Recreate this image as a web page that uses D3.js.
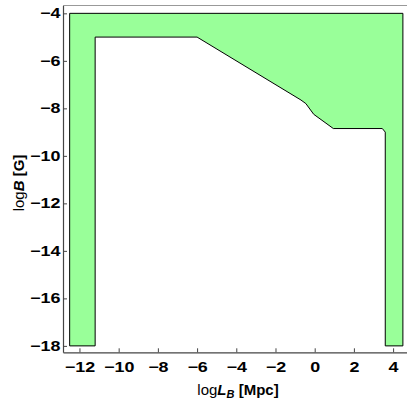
<!DOCTYPE html>
<html>
<head>
<meta charset="utf-8">
<script src="https://cdn.jsdelivr.net/npm/d3@7"></script>
<style>
  html, body { margin: 0; padding: 0; background: #fff; }
  svg { display: block; }
  text { font-family: "Liberation Sans", Arial, sans-serif; }
</style>
</head>
<body>
<svg id="chart" width="407" height="401"></svg>
<script>
// Allowed region in the (log L_B, log B) plane, outer boundary then inner boundary
const outerLogL = [-12.5, -12.5, 4.5, 4.5];
const outerLogB = [-18, -4, -4, -18];
const innerLogL = [3.6, 3.6, 3.45, 0.95, -0.05, -0.45, -0.7, -6, -11.2, -11.2];
const innerLogB = [-18, -9.0, -8.85, -8.85, -8.25, -7.8, -7.65, -5, -5, -18];

const xTicks = [-12, -10, -8, -6, -4, -2, 0, 2, 4];
const yTicks = [-18, -16, -14, -12, -10, -8, -6, -4];

const svg = d3.select("#chart");
const x = d3.scaleLinear().domain([-12.84, 4.76]).range([63, 408]);
const y = d3.scaleLinear().domain([-18.27, -3.67]).range([352.3, 5.5]);

const pts = outerLogL.map((v, i) => [v, outerLogB[i]])
  .concat(innerLogL.map((v, i) => [v, innerLogB[i]]));

svg.append("path")
  .attr("d", d3.line().x(d => x(d[0])).y(d => y(d[1]))(pts) + "Z")
  .attr("fill", "#99ff99")
  .attr("stroke", "#000")
  .attr("stroke-width", 1)
  .attr("stroke-linejoin", "round");

// frame: top line light, left/bottom axes dark
svg.append("line")
  .attr("x1", x.range()[0]).attr("x2", x.range()[1])
  .attr("y1", y.range()[1]).attr("y2", y.range()[1])
  .attr("stroke", "#999").attr("stroke-width", 1);

const fmt = v => (v < 0 ? "\u2212" + Math.abs(v) : String(v));

const xAxis = d3.axisBottom(x).tickValues(xTicks).tickSizeInner(-4).tickSizeOuter(0)
  .tickPadding(10).tickFormat(fmt);
const gx = svg.append("g").attr("transform", `translate(0,${y.range()[0]})`).call(xAxis);

const yAxis = d3.axisLeft(y).tickValues(yTicks).tickSizeInner(-4).tickSizeOuter(0)
  .tickPadding(2).tickFormat(fmt);
const gy = svg.append("g").attr("transform", `translate(${x.range()[0]},0)`).call(yAxis);

[gx, gy].forEach(g => {
  g.select(".domain").attr("stroke", "#444").attr("stroke-width", 1.2);
  g.selectAll(".tick line").attr("stroke", "#444");
  g.selectAll(".tick text")
    .attr("fill", "#000")
    .attr("font-size", 14)
    .attr("font-weight", "bold")
    .attr("font-family", "Liberation Sans, Arial, sans-serif")
    .attr("transform", "scale(1.28,1)");
});

// x axis title: log L_B [Mpc]
const xt = svg.append("text")
  .attr("x", 238).attr("y", 395)
  .attr("text-anchor", "middle")
  .attr("font-size", 15)
  .attr("fill", "#000");
xt.append("tspan").text("log");
xt.append("tspan").attr("font-weight", "bold").attr("font-style", "italic").text("L");
xt.append("tspan").attr("font-weight", "bold").attr("font-style", "italic")
  .attr("font-size", 11).attr("dy", 3).text("B");
xt.append("tspan").attr("font-weight", "bold").attr("dy", -3).text(" [Mpc]");

// y axis title: log B [G]
const yt = svg.append("text")
  .attr("transform", "translate(24,183) rotate(-90)")
  .attr("text-anchor", "middle")
  .attr("font-size", 15)
  .attr("fill", "#000");
yt.append("tspan").text("log");
yt.append("tspan").attr("font-weight", "bold").attr("font-style", "italic").text("B");
yt.append("tspan").attr("font-weight", "bold").text(" [G]");
</script>
</body>
</html>
